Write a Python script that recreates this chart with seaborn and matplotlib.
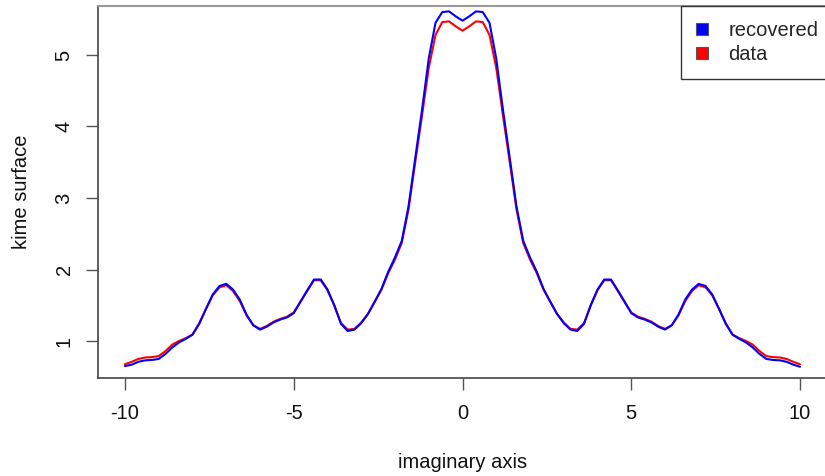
import numpy as np
import pandas as pd
import matplotlib
matplotlib.use("Agg")
import matplotlib.pyplot as plt
from matplotlib.patches import Patch
import seaborn as sns

# x grid (imaginary axis), step 0.2
imag_axis = np.linspace(-10, 10, 101)

# recovered kime surface (blue)
recovered = [
    0.65, 0.67, 0.71, 0.73, 0.735, 0.75, 0.82, 0.91, 0.98, 1.03,
    1.09, 1.24, 1.45, 1.65, 1.77, 1.80, 1.72, 1.58, 1.37, 1.22,
    1.16, 1.20, 1.26, 1.30, 1.33, 1.39, 1.55, 1.71, 1.86, 1.86,
    1.72, 1.50, 1.24, 1.14, 1.16, 1.25, 1.38, 1.55, 1.73, 1.97,
    2.17, 2.40, 2.88, 3.56, 4.23, 4.95, 5.45, 5.60, 5.61, 5.54,
    5.48,
    5.54, 5.61, 5.60, 5.45, 4.95, 4.23, 3.56, 2.88, 2.40, 2.17,
    1.97, 1.73, 1.55, 1.38, 1.25, 1.16, 1.14, 1.24, 1.50, 1.72,
    1.86, 1.86, 1.71, 1.55, 1.39, 1.33, 1.30, 1.26, 1.20, 1.16,
    1.22, 1.37, 1.58, 1.72, 1.80, 1.77, 1.65, 1.45, 1.24, 1.09,
    1.03, 0.98, 0.91, 0.82, 0.75, 0.735, 0.73, 0.71, 0.67, 0.64,
]

# observed data (red)
observed = [
    0.675, 0.71, 0.75, 0.77, 0.775, 0.79, 0.86, 0.95, 1.00, 1.04,
    1.09, 1.25, 1.45, 1.64, 1.75, 1.78, 1.70, 1.56, 1.36, 1.22,
    1.17, 1.21, 1.27, 1.31, 1.34, 1.40, 1.55, 1.70, 1.85, 1.85,
    1.71, 1.50, 1.25, 1.16, 1.17, 1.26, 1.38, 1.55, 1.72, 1.95,
    2.14, 2.37, 2.84, 3.50, 4.15, 4.82, 5.28, 5.46, 5.47, 5.40,
    5.34,
    5.40, 5.47, 5.46, 5.28, 4.82, 4.15, 3.50, 2.84, 2.37, 2.14,
    1.95, 1.72, 1.55, 1.38, 1.26, 1.17, 1.16, 1.25, 1.50, 1.71,
    1.85, 1.85, 1.70, 1.55, 1.40, 1.34, 1.31, 1.27, 1.21, 1.17,
    1.22, 1.36, 1.56, 1.70, 1.78, 1.75, 1.64, 1.45, 1.25, 1.09,
    1.04, 1.00, 0.95, 0.86, 0.79, 0.775, 0.77, 0.75, 0.71, 0.675,
]

legend_labels = ["recovered", "data"]
legend_colors = ["blue", "red"]
x_ticks = [-10, -5, 0, 5, 10]
y_ticks = [1, 2, 3, 4, 5]

sns.set_style("white")
plt.rcParams["font.family"] = ["Liberation Sans", "DejaVu Sans"]

fig = plt.figure(figsize=(8.25, 4.76), dpi=100)
ax = fig.add_axes([98 / 825, 98 / 476, 729 / 825, 372 / 476])

df = pd.DataFrame({"x": imag_axis, "recovered": recovered, "data": observed})
sns.lineplot(data=df, x="x", y="data", color="red", lw=1.5, ax=ax)
sns.lineplot(data=df, x="x", y="recovered", color="blue", lw=1.5, ax=ax)

ax.set_xlim(-10.8, 10.8)
ax.set_ylim(0.483, 5.685)
ax.set_xticks(x_ticks)
ax.set_xticklabels([str(t) for t in x_ticks])
ax.set_yticks(y_ticks)
ax.set_yticklabels([str(t) for t in y_ticks], rotation=90, va="center")

for side in ["left", "bottom"]:
    ax.spines[side].set_color("#444444")
    ax.spines[side].set_linewidth(1.2)
ax.spines["top"].set_color("#999999")
ax.spines["top"].set_linewidth(1.5)
ax.spines["right"].set_visible(False)

ax.tick_params(axis="both", bottom=True, left=True, direction="out", length=8.6,
               width=1, color="#555555", labelsize=14.5, labelcolor="#111111")
ax.tick_params(axis="x", pad=10)
ax.tick_params(axis="y", pad=9)

ax.set_xlabel("imaginary axis", fontsize=14.5, labelpad=22, color="#111111")
ax.set_ylabel("kime surface", fontsize=14.5, labelpad=17, color="#111111")

handles = [Patch(facecolor=c, edgecolor="#555555", lw=0.8) for c in legend_colors]
leg = ax.legend(handles, legend_labels, loc="upper right", bbox_to_anchor=(1.009, 1.0),
                borderaxespad=0, fontsize=14.5, frameon=True, fancybox=False,
                framealpha=1, edgecolor="#333333", handlelength=0.6, handleheight=0.6,
                handletextpad=1.0, labelspacing=0.25, borderpad=0.75)
leg.get_frame().set_linewidth(1.0)

fig.savefig("out.png", dpi=100)
